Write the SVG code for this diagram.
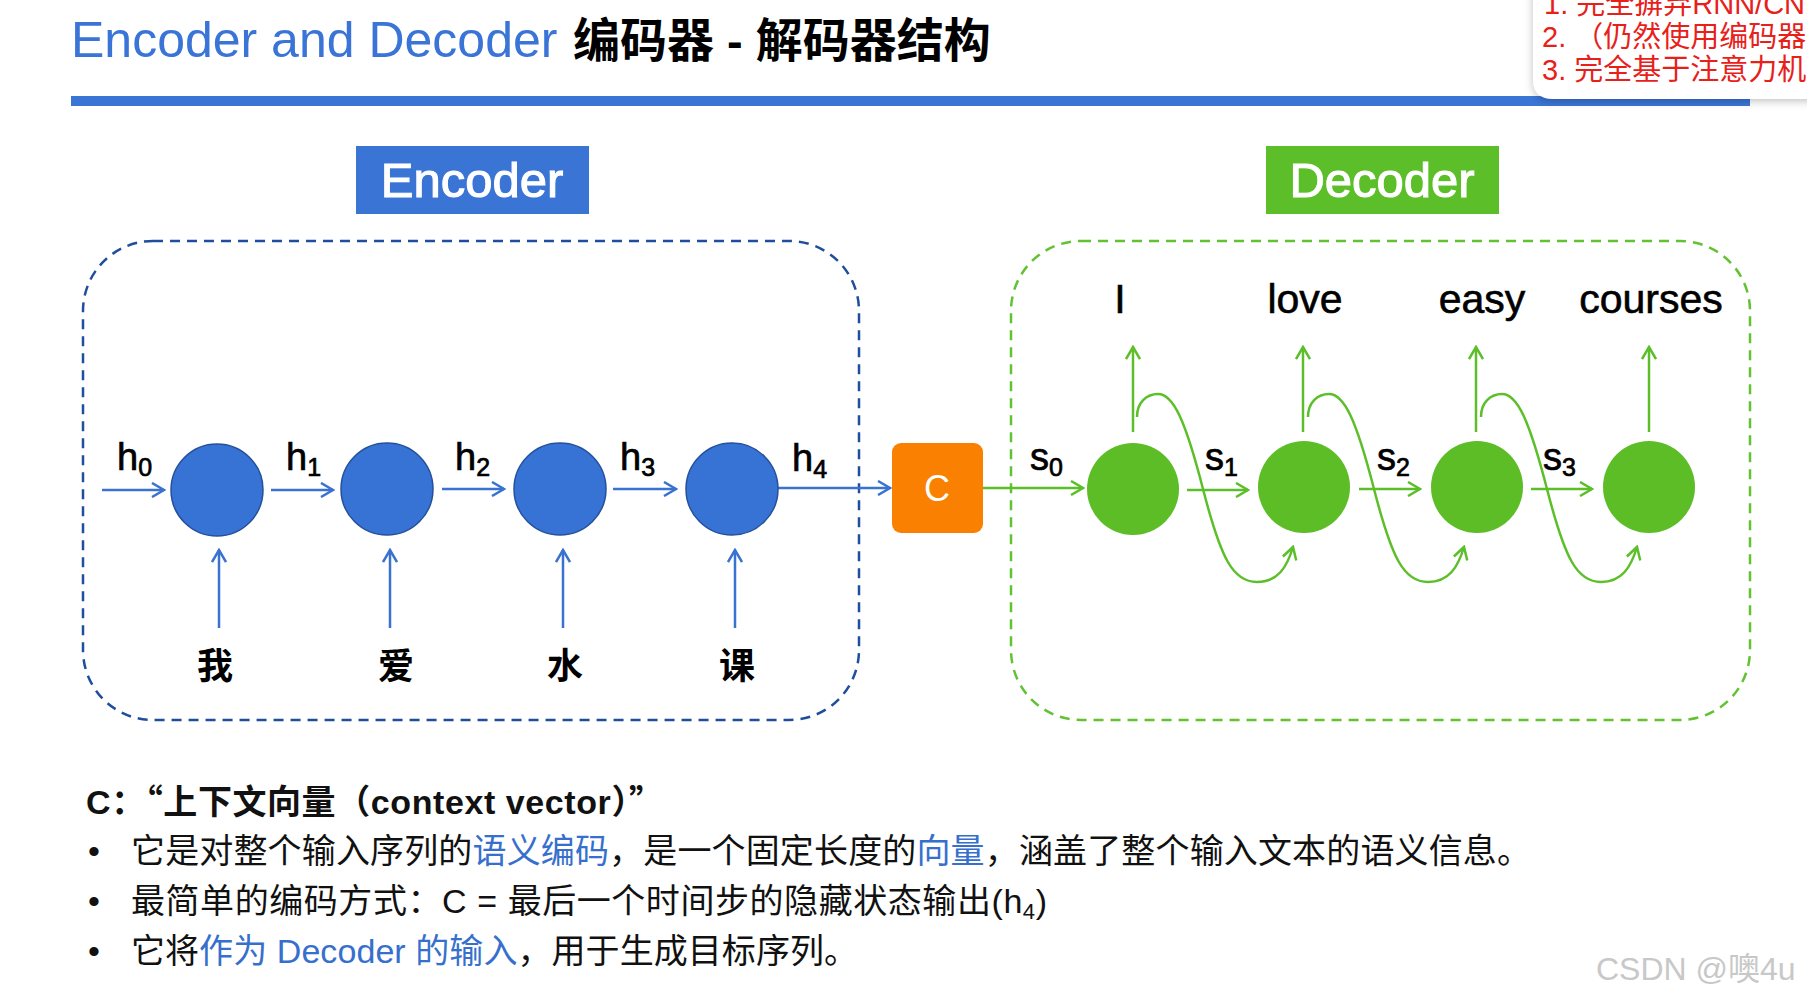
<svg xmlns="http://www.w3.org/2000/svg" width="1807" height="1001" viewBox="0 0 1807 1001">
<style>
  .sans { font-family: "Liberation Sans", "Noto Sans CJK SC", sans-serif; }
  .cjk { font-family: "Noto Sans CJK SC", sans-serif; }
  .lbl { font-family: "Liberation Sans", "Noto Sans CJK SC", sans-serif; font-size: 38px; fill: #000; stroke: #000; stroke-width: 0.7; }
  .sub { font-size: 25px; }
  .word { font-family: "Liberation Sans", sans-serif; font-size: 41px; fill: #000; stroke: #000; stroke-width: 0.6; text-anchor: middle; }
  .cn { font-family: "Noto Sans CJK SC", sans-serif; font-size: 36px; font-weight: bold; fill: #000; text-anchor: middle; }
  .enc { fill: #3673d4; stroke: #24509c; stroke-width: 1.5; }
  .dec { fill: #5cbd26; }
  .barr { stroke: #3a72cf; stroke-width: 2.5; fill: none; marker-end: url(#ab); }
  .garr { stroke: #5cbf2a; stroke-width: 2.5; fill: none; marker-end: url(#ag); }
  .body { font-family: "Liberation Sans", "Noto Sans CJK SC", sans-serif; font-size: 34px; fill: #111; }
  .hl { fill: #3670cc; }
  .pop { font-family: "Liberation Sans", "Noto Sans CJK SC", sans-serif; font-size: 29px; fill: #e8201a; }
  .tag { font-family: "Liberation Sans", sans-serif; font-size: 49px; fill: #fff; stroke: #fff; stroke-width: 1.1; text-anchor: middle; }
</style>
<defs>
  <marker id="ab" viewBox="0 0 16 16" refX="14" refY="8" markerWidth="16" markerHeight="16" markerUnits="userSpaceOnUse" orient="auto">
    <path d="M2,1 L14,8 L2,15" fill="none" stroke="#3a72cf" stroke-width="2.5"/>
  </marker>
  <marker id="ag" viewBox="0 0 16 16" refX="14" refY="8" markerWidth="16" markerHeight="16" markerUnits="userSpaceOnUse" orient="auto">
    <path d="M2,1 L14,8 L2,15" fill="none" stroke="#5cbf2a" stroke-width="2.5"/>
  </marker>
  <filter id="shadow" x="-20%" y="-20%" width="140%" height="160%">
    <feDropShadow dx="0" dy="2" stdDeviation="4" flood-color="#000" flood-opacity="0.25"/>
  </filter>
</defs>

<rect width="1807" height="1001" fill="#ffffff"/>

<!-- Title -->
<g id="title">
  <text class="sans" x="71" y="57" font-size="50" fill="#3a74d6">Encoder and Decoder</text>
  <text class="sans" x="573" y="57" font-size="47" font-weight="bold" fill="#000">编码器 - 解码器结构</text>
  <rect x="71" y="96" width="1679" height="10" fill="#3a75d6"/>
</g>

<!-- popup -->
<g id="popup">
  <path d="M1533,-10 L1820,-10 L1820,99 L1553,99 Q1533,99 1533,79 Z" fill="#fff" filter="url(#shadow)"/>
  <text class="pop" x="1544" y="14">1. 完全摒弃RNN/CNN</text>
  <text class="pop" x="1542" y="47">2. （仍然使用编码器-解</text>
  <text class="pop" x="1542" y="80">3. 完全基于注意力机制</text>
</g>

<!-- Labels -->
<g id="encoder-label">
  <rect x="356" y="146" width="233" height="68" fill="#3a74d4"/>
  <text class="tag" x="472" y="197">Encoder</text>
</g>
<g id="decoder-label">
  <rect x="1266" y="146" width="233" height="68" fill="#5cbf2a"/>
  <text class="tag" x="1382" y="197">Decoder</text>
</g>

<!-- containers -->
<g id="encoder-box">
  <rect x="83" y="241" width="776" height="479" rx="70" ry="70" fill="none" stroke="#1f4e9c" stroke-width="2.5" stroke-dasharray="10 7"/>
</g>
<g id="decoder-box">
  <rect x="1011" y="241" width="739" height="479" rx="70" ry="70" fill="none" stroke="#62c232" stroke-width="2.5" stroke-dasharray="10 7"/>
</g>

<!-- connectors -->
<g id="connectors">
  <line class="barr" x1="102" y1="490" x2="164" y2="490"/>
  <line class="barr" x1="271" y1="490" x2="333" y2="490"/>
  <line class="barr" x1="442" y1="489" x2="504" y2="489"/>
  <line class="barr" x1="613" y1="489" x2="676" y2="489"/>
  <line class="barr" x1="778" y1="488" x2="890" y2="488"/>
  <line class="barr" x1="219" y1="628" x2="219" y2="550"/>
  <line class="barr" x1="390" y1="628" x2="390" y2="550"/>
  <line class="barr" x1="563" y1="628" x2="563" y2="550"/>
  <line class="barr" x1="735" y1="628" x2="735" y2="550"/>

  <line class="garr" x1="983" y1="488" x2="1083" y2="488"/>
  <line class="garr" x1="1187" y1="490" x2="1248" y2="490"/>
  <line class="garr" x1="1359" y1="489" x2="1420" y2="489"/>
  <line class="garr" x1="1531" y1="489" x2="1592" y2="489"/>

  <line class="garr" x1="1133" y1="432" x2="1133" y2="347"/>
  <line class="garr" x1="1303" y1="432" x2="1303" y2="347"/>
  <line class="garr" x1="1476" y1="432" x2="1476" y2="347"/>
  <line class="garr" x1="1649" y1="432" x2="1649" y2="347"/>

  <path class="garr" transform="translate(1133,489)" d="M4,-72 C4,-87 14,-95 25,-95 C40,-95 52,-70 70,0 C88,70 100,93 124,93 C145,93 154,78 160,58"/>
  <path class="garr" transform="translate(1304,489)" d="M4,-72 C4,-87 14,-95 25,-95 C40,-95 52,-70 70,0 C88,70 100,93 124,93 C145,93 154,78 160,58"/>
  <path class="garr" transform="translate(1477,489)" d="M4,-72 C4,-87 14,-95 25,-95 C40,-95 52,-70 70,0 C88,70 100,93 124,93 C145,93 154,78 160,58"/>
</g>

<!-- edge labels -->
<g id="h-labels">
  <text class="lbl" x="117" y="470">h<tspan class="sub" dy="6">0</tspan></text>
  <text class="lbl" x="286" y="470">h<tspan class="sub" dy="6">1</tspan></text>
  <text class="lbl" x="455" y="470">h<tspan class="sub" dy="6">2</tspan></text>
  <text class="lbl" x="620" y="470">h<tspan class="sub" dy="6">3</tspan></text>
  <text class="lbl" x="792" y="471">h<tspan class="sub" dy="7">4</tspan></text>
</g>
<g id="s-labels">
  <text class="lbl" x="1030" y="470">s<tspan class="sub" dy="6">0</tspan></text>
  <text class="lbl" x="1205" y="470">s<tspan class="sub" dy="6">1</tspan></text>
  <text class="lbl" x="1377" y="470">s<tspan class="sub" dy="6">2</tspan></text>
  <text class="lbl" x="1543" y="470">s<tspan class="sub" dy="6">3</tspan></text>
</g>

<!-- encoder nodes -->
<g id="enc1"><circle class="enc" cx="217" cy="490" r="46"/></g>
<g id="enc2"><circle class="enc" cx="387" cy="489" r="46"/></g>
<g id="enc3"><circle class="enc" cx="560" cy="489" r="46"/></g>
<g id="enc4"><circle class="enc" cx="732" cy="489" r="46"/></g>

<g id="in1"><text class="cn" x="215" y="679">我</text></g>
<g id="in2"><text class="cn" x="396" y="679">爱</text></g>
<g id="in3"><text class="cn" x="565" y="679">水</text></g>
<g id="in4"><text class="cn" x="737" y="679">课</text></g>

<!-- context -->
<g id="context">
  <rect x="892" y="443" width="91" height="90" rx="9" ry="9" fill="#f98000"/>
  <text class="sans" x="937" y="501" font-size="36" fill="#fff" text-anchor="middle">C</text>
</g>

<!-- decoder nodes -->
<g id="dec1"><circle class="dec" cx="1133" cy="489" r="46"/></g>
<g id="dec2"><circle class="dec" cx="1304" cy="487" r="46"/></g>
<g id="dec3"><circle class="dec" cx="1477" cy="487" r="46"/></g>
<g id="dec4"><circle class="dec" cx="1649" cy="487" r="46"/></g>

<g id="out1"><text class="word" x="1120" y="313">I</text></g>
<g id="out2"><text class="word" x="1305" y="313">love</text></g>
<g id="out3"><text class="word" x="1482" y="313">easy</text></g>
<g id="out4"><text class="word" x="1651" y="313">courses</text></g>

<!-- notes -->
<g id="notes">
  <text class="body" x="86" y="814" font-weight="bold" textLength="577" lengthAdjust="spacing">C<tspan class="cjk">：“</tspan>上下文向量<tspan class="cjk">（</tspan>context vector<tspan class="cjk">）”</tspan></text>
  <text class="body" x="88" y="863">•</text>
  <text class="body" x="131" y="863" textLength="1400" lengthAdjust="spacing">它是对整个输入序列的<tspan class="hl">语义编码</tspan>，是一个固定长度的<tspan class="hl">向量</tspan>，涵盖了整个输入文本的语义信息。</text>
  <text class="body" x="88" y="913">•</text>
  <text class="body" x="131" y="913" textLength="916" lengthAdjust="spacing">最简单的编码方式：C = 最后一个时间步的隐藏状态输出(h<tspan font-size="22" dy="6">4</tspan><tspan dy="-6">)</tspan></text>
  <text class="body" x="88" y="963">•</text>
  <text class="body" x="131" y="963" textLength="727" lengthAdjust="spacing">它将<tspan class="hl">作为 Decoder 的输入</tspan>，用于生成目标序列。</text>
</g>

<g id="watermark">
  <text class="sans" x="1596" y="980" font-size="32" fill="#c8c8c8">CSDN @噢4u</text>
</g>
</svg>
